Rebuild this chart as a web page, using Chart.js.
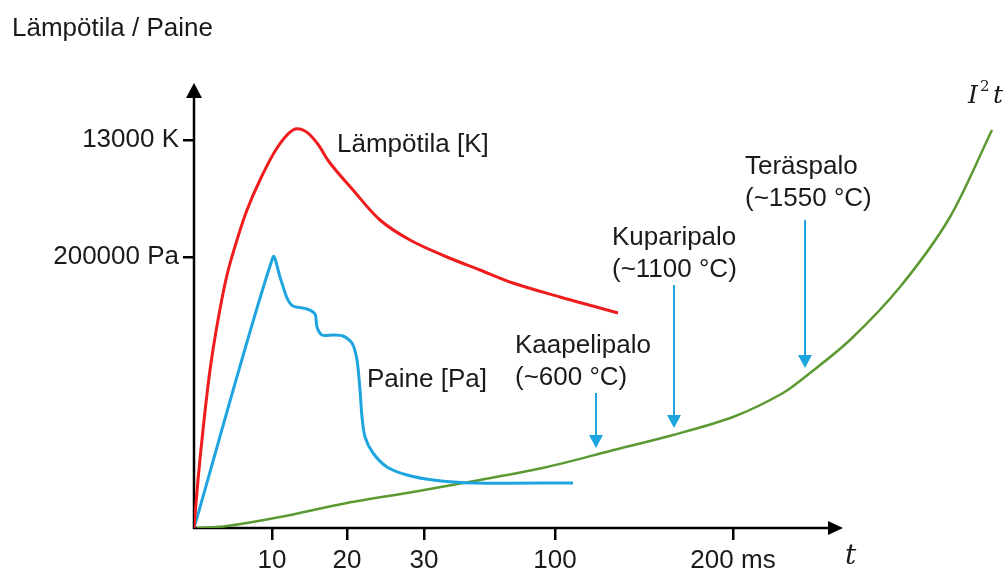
<!DOCTYPE html>
<html>
<head>
<meta charset="utf-8">
<script src="https://cdn.jsdelivr.net/npm/chart.js@4/dist/chart.umd.min.js"></script>
<style>
  html, body { margin: 0; padding: 0; background: #fff; }
  canvas { display: block; }
</style>
</head>
<body>
<canvas id="chart" width="1008" height="572"></canvas>
<script>
// schematic axes: units are relative steps along each axis
const xTickPos = [78, 153, 230, 361, 539];
const xTickLabels = ['10', '20', '30', '100', '200 ms'];
const yTickPos = [271, 388];
const yTickLabels = ['200000 Pa', '13000 K'];
const xAxisEnd = 649, yAxisEnd = 445;

// Lämpötila [K]
const tempT = [0, 4, 9, 16, 24, 33, 43, 53, 66, 83, 99, 111, 123, 136, 159, 186, 216, 253, 286, 319, 366, 406, 424];
const tempY = [0, 48, 98, 158, 208, 253, 288, 318, 348, 380, 398, 397, 385, 365, 338, 308, 288, 271, 258, 245, 231, 220, 215];

// Paine [Pa]
const presT = [0, 79, 86, 93, 99, 113, 121, 123, 128, 139, 149, 158, 163, 166, 168, 171, 179, 193, 213, 239, 279, 379];
const presY = [0, 271, 251, 230, 222, 219, 214, 201, 193, 193, 192, 185, 168, 138, 111, 91, 75, 61, 53, 48, 45, 45];

// I^2 t
const i2tT = [3, 33, 86, 153, 219, 286, 353, 416, 479, 539, 589, 616, 656, 706, 756, 798];
const i2tY = [0, 2, 11, 25, 36, 48, 61, 77, 93, 111, 135, 155, 188, 241, 311, 398];

// fire types pointing at the I^2 t curve
const fireNames = ['Kaapelipalo', 'Kuparipalo', 'Teräspalo'];
const fireTemps = ['(~600 °C)', '(~1100 °C)', '(~1550 °C)'];
const fireArrowT = [402, 480, 611];
const fireArrowFrom = [135, 243, 308];
const fireArrowTo = [80, 100, 160];
const fireLabelT = [321, 418, 551];
const fireLabelY = [182, 290, 361];

const FONT = '26px "Liberation Sans", Arial, sans-serif';
const INK = '#1a1a1a';
const BLUE = '#1ea5e0';

const toPts = (xs, ys) => xs.map((v, i) => ({ x: v, y: ys[i] }));

const sketch = {
    id: 'sketch',
    beforeDatasetsDraw(chart) {
        const { ctx, scales: { x, y } } = chart;
        const x0 = x.getPixelForValue(0), y0 = y.getPixelForValue(0);
        const xe = x.getPixelForValue(xAxisEnd), ye = y.getPixelForValue(yAxisEnd);
        ctx.save();
        ctx.strokeStyle = '#000';
        ctx.fillStyle = '#000';
        ctx.lineWidth = 2.5;
        ctx.beginPath();
        ctx.moveTo(x0, y0 + 1);
        ctx.lineTo(x0, ye + 10);
        ctx.moveTo(x0 - 1, y0);
        ctx.lineTo(xe - 10, y0);
        ctx.stroke();
        ctx.beginPath();
        ctx.moveTo(x0, ye);
        ctx.lineTo(x0 - 8, ye + 15);
        ctx.lineTo(x0 + 8, ye + 15);
        ctx.closePath();
        ctx.fill();
        ctx.beginPath();
        ctx.moveTo(xe, y0);
        ctx.lineTo(xe - 15, y0 - 7);
        ctx.lineTo(xe - 15, y0 + 7);
        ctx.closePath();
        ctx.fill();
        ctx.restore();
    },
    afterDatasetsDraw(chart) {
        const { ctx, scales: { x, y } } = chart;
        ctx.save();
        ctx.fillStyle = INK;
        ctx.font = FONT;
        ctx.textBaseline = 'middle';
        ctx.textAlign = 'left';
        ctx.fillText('Lämpötila / Paine', 12, 29);
        ctx.fillText('Lämpötila [K]', x.getPixelForValue(143), y.getPixelForValue(383));
        ctx.fillText('Paine [Pa]', x.getPixelForValue(173), y.getPixelForValue(148));

        fireNames.forEach((name, i) => {
            const lx = x.getPixelForValue(fireLabelT[i]);
            const ly = y.getPixelForValue(fireLabelY[i]);
            ctx.fillStyle = INK;
            ctx.fillText(name, lx, ly);
            ctx.fillText(fireTemps[i], lx, ly + 32);

            const ax = x.getPixelForValue(fireArrowT[i]);
            const a1 = y.getPixelForValue(fireArrowFrom[i]);
            const a2 = y.getPixelForValue(fireArrowTo[i]);
            ctx.strokeStyle = BLUE;
            ctx.fillStyle = BLUE;
            ctx.lineWidth = 2;
            ctx.beginPath();
            ctx.moveTo(ax, a1);
            ctx.lineTo(ax, a2 - 10);
            ctx.stroke();
            ctx.beginPath();
            ctx.moveTo(ax, a2);
            ctx.lineTo(ax - 7, a2 - 13);
            ctx.lineTo(ax + 7, a2 - 13);
            ctx.closePath();
            ctx.fill();
        });

        // axis names in italic serif
        ctx.fillStyle = INK;
        ctx.font = 'italic 28px "DejaVu Serif", "Liberation Serif", serif';
        ctx.fillText('t', 845, 557);
        ctx.font = 'italic 25px "DejaVu Serif", "Liberation Serif", serif';
        ctx.fillText('I', 968, 96);
        ctx.fillText('t', 993, 96);
        ctx.font = '15px "DejaVu Serif", "Liberation Serif", serif';
        ctx.fillText('2', 980, 87);
        ctx.restore();
    }
};

new Chart(document.getElementById('chart'), {
    type: 'line',
    data: {
        datasets: [
            { label: 'Lämpötila [K]', data: toPts(tempT, tempY), borderColor: '#ee1c1c', borderWidth: 3, tension: 0.35 },
            { label: 'Paine [Pa]', data: toPts(presT, presY), borderColor: BLUE, borderWidth: 3, tension: 0.25 },
            { label: 'I2t', data: toPts(i2tT, i2tY), borderColor: '#5b9a32', borderWidth: 2.5, tension: 0.3 }
        ]
    },
    options: {
        responsive: false,
        animation: false,
        devicePixelRatio: 1,
        layout: { padding: { top: 83, left: 0, right: 4, bottom: 0 } },
        elements: { point: { radius: 0 } },
        plugins: { legend: { display: false }, tooltip: { enabled: false } },
        scales: {
            x: {
                type: 'linear',
                min: 0,
                max: 810,
                afterFit: s => { s.height = 44; },
                afterBuildTicks: s => { s.ticks = xTickPos.map(v => ({ value: v })); },
                border: { display: false },
                grid: { drawOnChartArea: false, drawTicks: true, tickLength: 12, color: '#000', lineWidth: 2.5 },
                ticks: { padding: 5, color: INK, font: { family: '"Liberation Sans", Arial, sans-serif', size: 26 }, maxRotation: 0, callback: (v, i) => xTickLabels[i] }
            },
            y: {
                type: 'linear',
                min: 0,
                max: 445,
                afterFit: s => { s.width = 194; },
                afterBuildTicks: s => { s.ticks = yTickPos.map(v => ({ value: v })); },
                border: { display: false },
                grid: { drawOnChartArea: false, drawTicks: true, tickLength: 11, color: '#000', lineWidth: 2.5 },
                ticks: { padding: 4, color: INK, font: { family: '"Liberation Sans", Arial, sans-serif', size: 26 }, callback: (v, i) => yTickLabels[i] }
            }
        }
    },
    plugins: [sketch]
});
</script>
</body>
</html>
